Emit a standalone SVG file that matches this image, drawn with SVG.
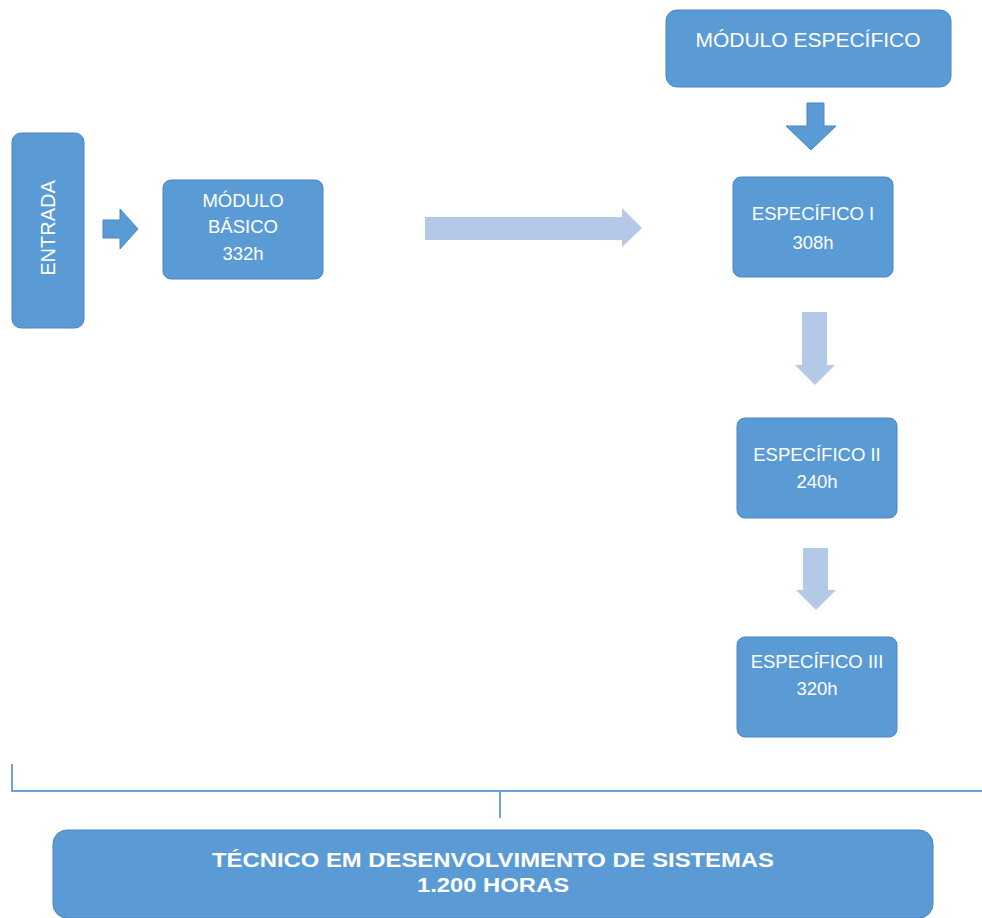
<svg xmlns="http://www.w3.org/2000/svg" width="982" height="918" viewBox="0 0 982 918">
<style>
.box{fill:#5b9bd5;stroke:#4a86c2;stroke-width:1}
.t{fill:#ffffff;font-family:"Liberation Sans",Arial,sans-serif;font-size:18.5px;text-anchor:middle}
.tb{fill:#ffffff;font-family:"Liberation Sans",Arial,sans-serif;font-size:20px;font-weight:bold;text-anchor:middle}
.dark{fill:#5b9bd5;stroke:#4a86c2;stroke-width:1}
.light{fill:#b4c9e8}
.line{stroke:#6fa3d8;stroke-width:2;fill:none}
</style>
<rect width="982" height="918" fill="#ffffff"/>
<g id="entrada">
<rect class="box" x="12" y="133" width="72" height="195" rx="9"/>
<text class="t" style="font-size:20px" transform="translate(55,228) rotate(-90)">ENTRADA</text>
</g>
<g id="modulo-basico">
<rect class="box" x="163" y="180" width="160" height="99" rx="8"/>
<text class="t" x="243" y="207">MÓDULO</text>
<text class="t" x="243" y="233">BÁSICO</text>
<text class="t" x="243" y="260">332h</text>
</g>
<g id="modulo-especifico">
<rect class="box" x="666" y="10" width="285" height="77" rx="11"/>
<text class="t" style="font-size:21px" x="808" y="47">MÓDULO ESPECÍFICO</text>
</g>
<g id="especifico-1">
<rect class="box" x="733" y="177" width="160" height="100" rx="8"/>
<text class="t" x="813" y="220">ESPECÍFICO I</text>
<text class="t" x="813" y="249">308h</text>
</g>
<g id="especifico-2">
<rect class="box" x="737" y="418" width="160" height="100" rx="8"/>
<text class="t" x="817" y="461">ESPECÍFICO II</text>
<text class="t" x="817" y="488">240h</text>
</g>
<g id="especifico-3">
<rect class="box" x="737" y="637" width="160" height="100" rx="8"/>
<text class="t" x="817" y="668">ESPECÍFICO III</text>
<text class="t" x="817" y="695">320h</text>
</g>
<g id="tecnico">
<rect class="box" x="53" y="830" width="880" height="88" rx="14"/>
<text class="tb" x="493" y="867" textLength="562" lengthAdjust="spacingAndGlyphs">TÉCNICO EM DESENVOLVIMENTO DE SISTEMAS</text>
<text class="tb" x="493" y="892" textLength="152" lengthAdjust="spacingAndGlyphs">1.200 HORAS</text>
</g>
<g id="connectors">
<polygon class="dark" points="103,220 120,220 120,209 138,229 120,249 120,238 103,238"/>
<polygon class="light" points="425,217 622,217 622,208 642,228 622,247 622,240 425,240"/>
<polygon class="dark" points="807,103 824,103 824,126 836,126 811,150 786,126 807,126"/>
<polygon class="light" points="802,312 827,312 827,365 835,365 815,385 795,365 802,365"/>
<polygon class="light" points="803,548 828,548 828,590 836,590 816,610 796,590 803,590"/>
<path class="line" d="M12,764 V791 H982 M500,791 V818"/>
</g>
</svg>
